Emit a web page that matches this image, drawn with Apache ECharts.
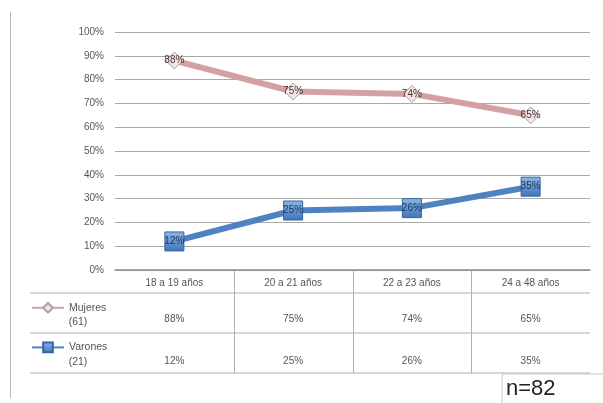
<!DOCTYPE html>
<html><head><meta charset="utf-8">
<script src="https://cdn.jsdelivr.net/npm/echarts@6/dist/echarts.min.js"></script>
<style>html,body{margin:0;padding:0;background:#fff}#c{width:603px;height:403px}</style>
</head><body><div id="c"></div>
<script>
const categories = ['18 a 19 años', '20 a 21 años', '22 a 23 años', '24 a 48 años'];
const mujeres = [88, 75, 74, 65];
const varones = [12, 25, 26, 35];
const seriesNames = ['Mujeres', 'Varones'];
const seriesCounts = ['(61)', '(21)'];
const yTicks = [0, 100, 10];
const sampleLabel = 'n=82';

const chart = echarts.init(document.getElementById('c'));
const F = 'Liberation Sans';
const gridL = 115, gridR = 13, gridT = 32, gridB = 133;
const pct = v => v + '%';
const xAx = (fmt, offset, show) => ({
  type: 'category', data: categories, position: 'bottom', offset: offset, gridIndex: 0,
  axisLine: { show: show, lineStyle: { color: '#8c8c8c', width: 1.5 } },
  axisTick: { show: false },
  axisLabel: { formatter: fmt, color: '#555', fontFamily: F, fontSize: 10, margin: 8 }
});
const option = {
  animation: false,
  grid: { left: gridL, right: gridR, top: gridT, bottom: gridB },
  legend: {
    orient: 'vertical', left: 26, top: 297, itemGap: 28, itemWidth: 32, itemHeight: 12,
    data: seriesNames,
    textStyle: { color: '#555', fontFamily: F, fontSize: 10.5 }
  },
  xAxis: [
    xAx(v => v, 0, true),
    xAx((v, i) => pct(mujeres[i]), 36, false),
    xAx((v, i) => pct(varones[i]), 78, false)
  ],
  yAxis: {
    type: 'value', min: yTicks[0], max: yTicks[1], interval: yTicks[2],
    axisLine: { show: false }, axisTick: { show: false },
    axisLabel: { formatter: '{value}%', color: '#555', fontFamily: F, fontSize: 10, margin: 11 },
    splitLine: { lineStyle: { color: '#a8a8a8', width: 1.2 } }
  },
  series: [
    {
      name: seriesNames[0], type: 'line', data: mujeres, xAxisIndex: 0,
      lineStyle: { color: '#d4a1a3', width: 6 },
      symbol: 'diamond', symbolSize: 17,
      itemStyle: { color: '#f3e6e6', borderColor: '#a9a0a0', borderWidth: 1 },
      label: { show: true, position: 'inside', formatter: p => pct(p.value), color: '#4a3434', fontFamily: F, fontSize: 10 }
    },
    {
      name: seriesNames[1], type: 'line', data: varones, xAxisIndex: 0,
      lineStyle: { color: '#4f82c2', width: 6 },
      symbol: 'rect', symbolSize: 19,
      itemStyle: {
        color: new echarts.graphic.LinearGradient(0, 0, 0, 1, [{ offset: 0, color: '#8cb6e6' }, { offset: 1, color: '#3f74b8' }]),
        borderColor: '#36639e', borderWidth: 1
      },
      label: { show: true, position: 'inside', formatter: p => pct(p.value), color: '#1d3557', fontFamily: F, fontSize: 10 }
    }
  ]
};
chart.setOption(option);

function buildTable() {
  const yTop = 403 - gridB;
  const rows = [yTop + 23, yTop + 63, yTop + 103];
  const xL = 30, xR = 603 - gridR;
  const els = [];
  const line = (x1, y1, x2, y2, c) => els.push({ type: 'line', shape: { x1, y1, x2, y2 }, style: { stroke: c || '#b0b0b0', lineWidth: 1 }, silent: true });
  rows.forEach(y => line(xL, y, xR, y));
  const w = (xR - gridL) / categories.length;
  for (let i = 1; i < categories.length; i++) {
    const x = Math.round(gridL + w * i) + 0.5;
    line(x, yTop, x, rows[2]);
  }
  line(10.5, 12, 10.5, 398, '#b5b5b5');
  seriesCounts.forEach((t, i) => els.push({ type: 'text', x: 78, y: rows[i] + 29, style: { text: t, fill: '#555', font: '10.5px ' + F, textAlign: 'center', textVerticalAlign: 'middle' } }));
  line(502, 374, 603, 374, '#c8c8c8');
  line(502, 374, 502, 403, '#c8c8c8');
  els.push({ type: 'text', x: 506, y: 389, style: { text: sampleLabel, fill: '#222', font: '22px ' + F, textVerticalAlign: 'middle' } });
  chart.setOption({ graphic: els });
}
buildTable();
</script></body></html>
